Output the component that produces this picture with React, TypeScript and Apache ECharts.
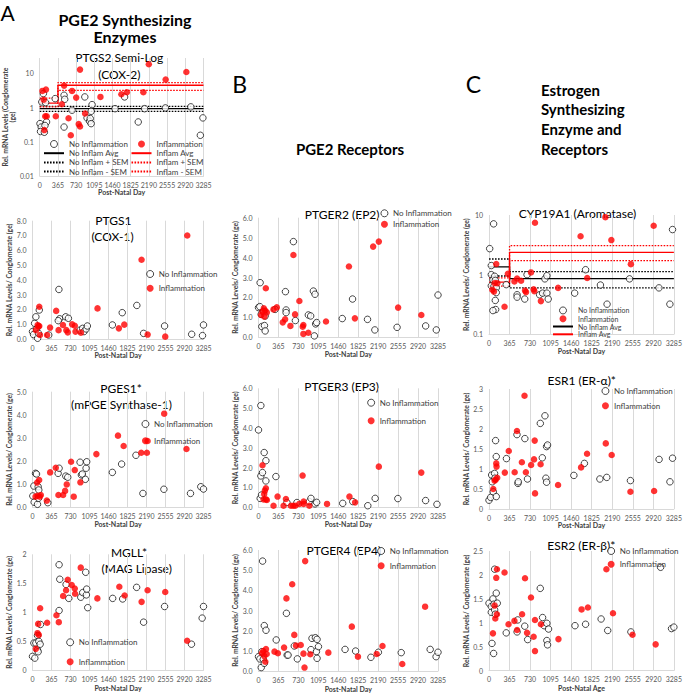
import React, { useEffect, useRef } from "react";
import * as echarts from "echarts";

const FONT = "Lato, 'Open Sans', sans-serif";
const X_MAX = 3285;
const X_STEP = 365;
const Y_NAME = "Rel. mRNA Levels/ Conglomerate (ge)";

// ---------- A: PGE2 synthesizing enzymes ----------
const ptgs2NoInfl = [[5,0.34],[29,0.27],[16,0.2],[73,2.56],[41,1.46],[118,1.4],[137,0.38],[105,0.3],[93,0.19],[310,1.83],[488,2.3],[501,1.75],[488,0.27],[648,0.84],[904,2.05],[949,0.5],[1000,0.4],[1013,0.48],[1031,0.78],[1050,1.22],[1031,0.34],[1511,0.93],[1702,2.05],[1976,0.38],[2104,0.93],[2520,0.98],[3031,1.05],[3273,0.5],[3222,0.155]];
const ptgs2Infl = [[54,3.07],[80,1.7],[125,3.36],[93,0.22],[110,0.56],[140,0.56],[322,0.56],[444,1.25],[489,4.4],[578,0.49],[648,3.07],[731,1.96],[808,12.9],[910,0.67],[782,0.33],[808,0.28],[623,0.155],[1218,2.05],[1638,2.45],[1747,2.8],[2079,2.8],[2188,18.5],[2526,6.6],[2941,11]];
const ptgs2NoInflAvg = [[0,0.93],[3285,0.93]];
const ptgs2NoInflPlus = [[0,1.09],[3285,1.09]];
const ptgs2NoInflMinus = [[0,0.78],[3285,0.78]];
const ptgs2InflAvg = [[0,1.36],[365,1.36],[365,4.5],[3285,4.5]];
const ptgs2InflPlus = [[0,1.9],[365,1.9],[365,5.4],[3285,5.4]];
const ptgs2InflMinus = [[0,1.05],[365,1.05],[365,3.2],[3285,3.2]];

const ptgs1NoInfl = [[0,0.5],[20,0.3],[40,1.06],[65,1.5],[78,0.68],[98,0.05],[117,0.38],[130,1.96],[312,0.27],[507,3.35],[520,1.37],[495,1.24],[637,1.5],[690,1.4],[911,0.6],[963,0.72],[989,0.5],[1030,0.68],[1054,0.88],[1535,0.95],[1724,1.78],[2004,2.27],[2134,0.38],[2537,0.88],[3058,0.32],[3266,0.23],[3285,0.95]];
const ptgs1Infl = [[65,0.6],[98,0.95],[130,0.88],[130,2.18],[115,0.85],[143,0.27],[280,0.27],[338,0.77],[455,1.9],[501,0.6],[585,0.95],[650,0.6],[677,0.45],[761,0.99],[813,0.9],[826,0.5],[930,0.43],[1249,2.07],[1659,0.72],[1763,0.97],[2095,5.36],[2212,0.3],[2550,0.16],[2973,7.0]];

const pges1NoInfl = [[6,0.49],[32,0.22],[26,0.92],[58,1.47],[77,1.44],[96,0.13],[109,0.89],[121,0.75],[115,0.39],[294,0.2],[492,1.47],[511,1.69],[639,1.35],[677,1.3],[914,1.95],[939,1.4],[958,1.44],[1016,1.21],[1029,1.69],[1041,1.97],[1534,1.51],[1712,1.87],[1987,2.25],[2121,0.6],[2524,0.78],[3035,0.6],[3233,0.89],[3285,0.79]];
const pges1Infl = [[58,0.46],[96,0.5],[89,1.07],[128,1.18],[140,0.46],[160,0.53],[275,0.29],[339,1.51],[447,1.71],[498,0.53],[588,0.53],[626,0.71],[658,0.99],[741,1.97],[792,0.46],[812,1.61],[920,1.08],[1227,2.3],[1642,3.1],[1751,2.65],[2089,2.36],[2198,2.36],[2211,2.87],[2530,4.05],[2958,2.52]];

const mgllNoInfl = [[0,0.24],[45,0.21],[26,0.47],[64,0.47],[96,0.35],[109,0.32],[96,0.6],[121,0.5],[147,0.45],[153,0.79],[511,1.03],[524,1.57],[511,1.82],[645,1.48],[697,1.24],[927,1.26],[965,1.34],[1035,1.3],[1041,1.4],[1022,1.69],[1061,1.08],[1540,1.24],[1732,1.23],[2000,1.43],[2134,0.83],[2537,1.1],[3054,0.45],[3259,0.9],[3285,1.1]];
const mgllInfl = [[64,0.37],[96,0.64],[109,0.8],[121,0.61],[147,1.07],[281,0.82],[460,0.95],[505,0.83],[588,1.28],[645,1.38],[677,1.56],[754,1.47],[812,1.41],[818,1.32],[927,1.77],[1246,1.24],[1668,1.44],[1770,1.29],[2096,1.18],[2211,1.38],[2550,1.35],[2971,0.51]];

// ---------- B: PGE2 receptors ----------
const ptger2NoInfl = [[0,1.49],[30,2.74],[24,1.54],[49,1.15],[61,0.54],[109,0.59],[122,0.32],[91,1.29],[122,1.07],[304,1.4],[493,2.29],[505,1.37],[505,1.24],[639,4.8],[675,0.84],[912,1.12],[955,1.07],[1004,2.32],[1034,2.16],[1022,0.07],[1046,0.67],[1064,0.74],[1533,0.94],[1721,1.92],[1995,0.9],[2129,0.37],[2536,0.5],[3059,0.57],[3254,0.37],[3285,2.12]];
const ptger2Infl = [[49,1.12],[73,1.29],[97,1.45],[109,1.04],[122,1.34],[134,2.46],[152,1.25],[274,1.4],[335,1.5],[444,0.75],[487,0.9],[584,0.57],[639,4.13],[669,1.15],[748,1.82],[809,0.53],[821,0.62],[821,0.17],[912,0.23],[1235,0.79],[1655,3.55],[1764,0.95],[2098,4.55],[2202,4.8],[2555,1.49],[2980,1.12]];

const ptger3NoInfl = [[0,3.9],[43,5.13],[31,0.45],[43,1.58],[73,1.75],[55,0.62],[104,2.76],[135,2.35],[135,1.33],[318,1.55],[520,0.24],[703,0.24],[930,0.29],[960,0.45],[1034,0.17],[1064,0.25],[1541,0.2],[1725,0.29],[2000,0.08],[2135,0.45],[2550,0.44],[3058,0.34],[3266,0.15]];
const ptger3Infl = [[73,2.12],[92,0.4],[104,0.67],[116,0.84],[135,0.96],[135,0.4],[153,0.37],[275,0.08],[349,0.54],[459,0.08],[502,0.42],[593,0.08],[636,0.08],[673,0.08],[746,0.17],[807,1.6],[826,0.29],[826,0.17],[930,0.08],[1254,0.17],[1664,0.54],[1768,0.25],[2202,2.05],[2979,1.75]];

const ptger4NoInfl = [[0,0.71],[25,0.6],[50,0.17],[75,5.45],[62,0.96],[87,0.58],[106,0.38],[106,2.25],[137,2.02],[324,1.54],[511,2.86],[524,0.79],[542,0.79],[655,1.24],[711,0.6],[960,1.06],[979,1.62],[1041,1.65],[1072,1.57],[1060,0.96],[1072,0.63],[1097,1.21],[1584,1.07],[1777,0.99],[2057,0.68],[2194,0.93],[2612,0.91],[3142,1.07],[3250,0.71],[3285,0.93]];
const ptger4Infl = [[62,0.88],[87,0.99],[106,0.74],[125,0.46],[137,1.09],[150,0.84],[293,0.96],[355,0.88],[468,1.16],[511,3.6],[617,4.3],[655,1.79],[686,1.26],[773,1.29],[823,0.86],[854,5.45],[842,0.17],[948,0.83],[1278,0.91],[1708,2.2],[1820,0.71],[2163,0.84],[2269,1.24],[2631,0.35],[3049,3.19]];

// ---------- C: estrogen synthesizing enzyme and receptors ----------
const cyp19NoInfl = [[12,2.73],[82,7.1],[41,1.42],[41,1.0],[41,0.65],[70,0.82],[88,0.64],[100,0.94],[112,0.8],[112,0.37],[118,0.26],[70,0.25],[129,0.6],[129,0.5],[306,0.68],[499,0.46],[499,0.42],[635,0.39],[676,1.0],[899,0.46],[952,0.49],[993,0.85],[1028,0.96],[1028,0.49],[1052,0.39],[1522,0.49],[1716,1.21],[1980,0.67],[2098,0.32],[2497,0.85],[3020,0.6],[3214,0.32],[3261,5.7]];
const cyp19Infl = [[59,0.56],[88,0.52],[100,0.72],[129,1.51],[147,0.72],[276,0.29],[335,1.03],[452,0.77],[499,0.86],[570,0.79],[640,0.54],[658,0.51],[746,1.09],[793,0.57],[805,0.53],[817,7.4],[922,0.36],[1228,0.6],[1627,4.4],[1745,0.88],[2068,9.2],[2174,3.8],[2521,1.5],[2926,6.6]];
const cyp19NoInflAvg = [[0,1.35],[365,1.35],[365,0.86],[3285,0.86]];
const cyp19NoInflPlus = [[0,1.83],[365,1.83],[365,1.12],[3285,1.12]];
const cyp19NoInflMinus = [[0,0.95],[365,0.95],[365,0.6],[3285,0.6]];
const cyp19InflAvg = [[0,0.75],[365,0.75],[365,2.37],[3285,2.37]];
const cyp19InflPlus = [[0,0.88],[365,0.88],[365,3.07],[3285,3.07]];
const cyp19InflMinus = [[0,0.64],[365,0.64],[365,1.72],[3285,1.72]];

const esr1NoInfl = [[0,0.22],[29,0.29],[47,0.85],[58,0.68],[76,0.43],[99,0.89],[117,1.71],[105,0.77],[129,0.31],[129,1.31],[310,1.26],[497,1.86],[514,0.64],[520,0.68],[637,1.76],[684,0.75],[912,2.14],[947,1.28],[994,2.33],[1011,0.77],[1023,1.56],[1040,1.6],[1023,0.67],[1508,0.84],[1695,1.14],[1970,0.75],[2092,0.79],[2513,0.71],[3022,1.24],[3215,0.68],[3261,1.27]];
const esr1Infl = [[76,0.5],[99,0.71],[117,0.73],[129,1.14],[134,1.06],[146,0.78],[281,0.91],[351,1.45],[456,0.92],[497,1.95],[584,1.17],[631,2.83],[655,0.92],[748,1.1],[800,1.24],[812,1.71],[818,0.39],[917,1.12],[1227,0.6],[1636,1.04],[1742,1.38],[2075,1.64],[2180,1.35],[2513,0.43],[2934,0.45]];

const esr2NoInfl = [[0,1.41],[41,1.34],[41,1.22],[53,0.57],[70,1.5],[82,0.36],[88,1.39],[100,2.12],[100,1.27],[112,1.18],[129,1.62],[147,1.41],[306,0.79],[499,0.81],[511,1.06],[635,0.93],[687,0.65],[911,1.72],[952,1.11],[981,0.94],[1028,0.99],[1028,0.63],[1040,0.54],[1058,0.87],[1528,0.94],[1716,0.97],[1992,1.08],[2109,0.84],[2521,0.81],[3049,2.16],[3243,0.88],[3285,0.91]];
const esr2Infl = [[70,0.78],[100,1.36],[112,1.09],[129,1.94],[141,2.12],[141,1.18],[276,2.05],[347,0.97],[452,1.04],[499,0.85],[588,1.18],[640,1.93],[676,0.79],[746,1.53],[793,0.71],[817,1.06],[817,0.41],[922,0.97],[1234,0.66],[1645,1.28],[1757,1.32],[2086,2.12],[2203,1.2],[2550,0.75],[2961,0.55]];

// ---------- layout of the ten panels ----------
type Panel = {
  left: number; top: number; width: number; height: number;
  log?: boolean; yMin: number; yMax: number; yInterval?: number; yDecimals?: number;
  noInfl: number[][]; infl: number[][];
  yName: string; yNameGap: number; xName: string; xNameGap: number;
  legend?: { cx: number; cy: number; step: number };
};

const colA = { left: 32.5, width: 171 };
const colB = { left: 258.5, width: 179.5 };
const colC = { left: 489, width: 186.5 };

const panels: Panel[] = [
  { ...colA, top: 58, height: 118, log: true, yMin: 0.01, yMax: 28.2, noInfl: ptgs2NoInfl, infl: ptgs2Infl, yName: "Rel. mRNA Levels (Conglomerate\n(ge)", yNameGap: 12, xName: "Post-Natal Day", xNameGap: 11 },
  { ...colA, top: 220.7, height: 118.3, yMin: 0, yMax: 8, yInterval: 1, yDecimals: 1, noInfl: ptgs1NoInfl, infl: ptgs1Infl, yName: Y_NAME, yNameGap: 20, xName: "Post-Natal Day", xNameGap: 11, legend: { cx: 150.7, cy: 274, step: 14.3 } },
  { ...colA, top: 391.7, height: 115.6, yMin: 0, yMax: 5, yInterval: 1, yDecimals: 1, noInfl: pges1NoInfl, infl: pges1Infl, yName: Y_NAME, yNameGap: 20, xName: "Post-Natal Day", xNameGap: 11, legend: { cx: 146, cy: 424, step: 16.7 } },
  { ...colA, top: 554.3, height: 116, yMin: 0, yMax: 2, yInterval: 0.5, noInfl: mgllNoInfl, infl: mgllInfl, yName: Y_NAME, yNameGap: 20, xName: "Post-Natal Day", xNameGap: 14, legend: { cx: 70.7, cy: 642.3, step: 19.4 } },
  { ...colB, top: 217.7, height: 119.6, yMin: 0, yMax: 6, yInterval: 1, yDecimals: 1, noInfl: ptger2NoInfl, infl: ptger2Infl, yName: Y_NAME, yNameGap: 18, xName: "Post-Natal Day", xNameGap: 12, legend: { cx: 385, cy: 213.3, step: 11 } },
  { ...colB, top: 388.3, height: 119, yMin: 0, yMax: 6, yInterval: 1, yDecimals: 1, noInfl: ptger3NoInfl, infl: ptger3Infl, yName: Y_NAME, yNameGap: 18, xName: "Post-Natal Day", xNameGap: 11, legend: { cx: 371.7, cy: 402.7, step: 18 } },
  { ...colB, top: 550, height: 121, yMin: 0, yMax: 6, yInterval: 1, yDecimals: 1, noInfl: ptger4NoInfl, infl: ptger4Infl, yName: Y_NAME, yNameGap: 18, xName: "Post-Natal Day", xNameGap: 14, legend: { cx: 381.7, cy: 551, step: 14.7 } },
  { ...colC, top: 215, height: 119.3, log: true, yMin: 0.1, yMax: 10, noInfl: cyp19NoInfl, infl: cyp19Infl, yName: Y_NAME, yNameGap: 15, xName: "Post-Natal Day", xNameGap: 11 },
  { ...colC, top: 389, height: 120, yMin: 0, yMax: 3, yInterval: 0.5, noInfl: esr1NoInfl, infl: esr1Infl, yName: Y_NAME, yNameGap: 15, xName: "Post-Natal Day", xNameGap: 11, legend: { cx: 606, cy: 391, step: 14.7 } },
  { ...colC, top: 551, height: 119.7, yMin: 0, yMax: 2.5, yInterval: 0.5, noInfl: esr2NoInfl, infl: esr2Infl, yName: Y_NAME, yNameGap: 15, xName: "Post-Natal Age", xNameGap: 14, legend: { cx: 611.7, cy: 551, step: 13.3 } },
];

// panel titles: [text, centre x, centre y]
const panelTitles: [string, number, number][] = [
  ["PTGS2 Semi-Log", 119.3, 57], ["(COX-2)", 119.3, 74],
  ["PTGS1", 113.3, 220.5], ["(COX-1)", 112.5, 236.5],
  ["PGES1*", 121, 388], ["(mPGE Synthase-1)", 121.5, 404],
  ["MGLL*", 129, 552], ["(MAG Lipase)", 136.7, 568],
  ["PTGER2 (EP2)", 342.2, 214], ["PTGER3 (EP3)", 341.7, 386], ["PTGER4 (EP4)", 343.8, 550.5],
  ["CYP19A1 (Aromatase)", 577.5, 213], ["ESR1 (ER-α)*", 581.7, 380], ["ESR2 (ER-β)*", 581.3, 545.5],
];

const BLACK = "#000000";
const RED = "#ff0000";
const GRID = "#d9d9d9";

function logLabel(v: number) {
  const e = Math.log10(v);
  if (Math.abs(e - Math.round(e)) > 1e-6) return "";
  return String(parseFloat(v.toPrecision(6)));
}

function buildOption() {
  const grid: any[] = [];
  const xAxis: any[] = [];
  const yAxis: any[] = [];
  const series: any[] = [];
  const legend: any[] = [];

  panels.forEach((p, i) => {
    grid.push({ left: p.left, top: p.top, width: p.width, height: p.height, containLabel: false });
    xAxis.push({
      gridIndex: i, type: "value", min: 0, max: X_MAX, interval: X_STEP,
      axisLine: { show: true, lineStyle: { color: GRID, width: 1 } },
      axisTick: { show: false },
      splitLine: { show: true, lineStyle: { color: GRID, width: 1 } },
      axisLabel: { fontSize: 7, color: "#595959", margin: 5, fontFamily: FONT, showMinLabel: true, showMaxLabel: true, formatter: (v: number) => String(v) },
      name: p.xName, nameLocation: "middle", nameGap: p.xNameGap,
      nameTextStyle: { fontSize: 7, fontWeight: "bold", color: "#404040", fontFamily: FONT },
    });
    yAxis.push({
      gridIndex: i, type: p.log ? "log" : "value", logBase: 10, min: p.yMin, max: p.yMax,
      ...(p.log ? {} : { interval: p.yInterval }),
      axisLine: { show: false }, axisTick: { show: false }, splitLine: { show: false },
      axisLabel: {
        fontSize: 7, color: "#595959", margin: 6, fontFamily: FONT,
        formatter: p.log ? logLabel : (v: number) => (p.yDecimals ? v.toFixed(p.yDecimals) : String(v)),
      },
      name: p.yName, nameLocation: "middle", nameGap: p.yNameGap, nameRotate: 90,
      nameTextStyle: { fontSize: 6.8, fontWeight: "bold", color: "#404040", fontFamily: FONT, lineHeight: 7.5 },
    });
    series.push({
      type: "scatter", name: "No Inflammation", xAxisIndex: i, yAxisIndex: i, data: p.noInfl,
      symbol: "circle", symbolSize: 6.5, silent: true, z: 3,
      itemStyle: { color: "#ffffff", borderColor: BLACK, borderWidth: 0.9 },
    });
    series.push({
      type: "scatter", name: "Inflammation", xAxisIndex: i, yAxisIndex: i, data: p.infl,
      symbol: "circle", symbolSize: 6.5, silent: true, z: 4,
      itemStyle: { color: RED },
    });
    if (p.legend) {
      legend.push({
        orient: "vertical", left: p.legend.cx - 4.5, top: p.legend.cy - 4,
        itemWidth: 7, itemHeight: 7, itemGap: p.legend.step - 8, padding: 0,
        selectedMode: false, data: ["No Inflammation", "Inflammation"],
        itemStyle: { borderWidth: 0.9 },
        textStyle: { fontSize: 8, color: "#404040", fontFamily: FONT },
      });
    }
  });

  const line = (name: string, gi: number, data: number[][], color: string, dotted: boolean) => ({
    type: "line", name, xAxisIndex: gi, yAxisIndex: gi, data, symbol: "none", showSymbol: false,
    silent: true, z: 2, animation: false,
    lineStyle: { color, width: 1.3, type: dotted ? [1.6, 1.4] : "solid" },
    itemStyle: { color },
  });

  series.push(line("No Inflam Avg", 0, ptgs2NoInflAvg, BLACK, false));
  series.push(line("No Inflam + SEM", 0, ptgs2NoInflPlus, BLACK, true));
  series.push(line("No Inflam - SEM", 0, ptgs2NoInflMinus, BLACK, true));
  series.push(line("Inflam Avg", 0, ptgs2InflAvg, RED, false));
  series.push(line("Inflam + SEM", 0, ptgs2InflPlus, RED, true));
  series.push(line("Inflam - SEM", 0, ptgs2InflMinus, RED, true));

  series.push(line("No Inflam Avg", 7, cyp19NoInflAvg, BLACK, false));
  series.push(line("CYP19A1 No Inflam + SEM", 7, cyp19NoInflPlus, BLACK, true));
  series.push(line("CYP19A1 No Inflam - SEM", 7, cyp19NoInflMinus, BLACK, true));
  series.push(line("Inflam Avg", 7, cyp19InflAvg, RED, false));
  series.push(line("CYP19A1 Inflam + SEM", 7, cyp19InflPlus, RED, true));
  series.push(line("CYP19A1 Inflam - SEM", 7, cyp19InflMinus, RED, true));

  const item = (name: string) =>
    name.indexOf("Inflam ") === 0 || name.indexOf("No Inflam ") === 0
      ? { name, itemStyle: { opacity: 0, borderWidth: 0 } }
      : { name };
  const smallLegend = (left: number, top: number, gap: number, size: number, data: string[]) => ({
    orient: "vertical", left, top, itemWidth: 20, itemHeight: 7, itemGap: gap, padding: 0,
    selectedMode: false, data: data.map(item), itemStyle: { borderWidth: 0.9 },
    textStyle: { fontSize: size, color: "#404040", fontFamily: FONT, lineHeight: size },
  });
  legend.push(smallLegend(43, 140, 1.2, 8, ["No Inflammation", "No Inflam Avg", "No Inflam + SEM", "No Inflam - SEM"]));
  legend.push(smallLegend(130.5, 140, 1.2, 8, ["Inflammation", "Inflam Avg", "Inflam + SEM", "Inflam - SEM"]));
  legend.push(smallLegend(552, 306.5, 0.8, 7, ["No Inflammation", "Inflammation", "No Inflam Avg", "Inflam Avg"]));

  const txt = (text: string, x: number, y: number, size: number, weight: string, align: string) => ({
    type: "text", x, y, silent: true,
    style: { text, fontSize: size, fontWeight: weight, fontFamily: FONT, fill: "#000", textAlign: align, textVerticalAlign: "middle" },
  });
  const graphic: any[] = [
    txt("A", 0.5, 12.5, 21, "normal", "left"),
    txt("B", 232.3, 84, 23, "normal", "left"),
    txt("C", 465.7, 84, 23, "normal", "left"),
    txt("PGE2 Synthesizing", 125, 19, 16, "bold", "center"),
    txt("Enzymes", 125, 36.5, 16, "bold", "center"),
    txt("PGE2 Receptors", 350, 148.7, 15, "bold", "center"),
    txt("Estrogen", 541, 89.7, 15, "bold", "left"),
    txt("Synthesizing", 541, 109.3, 15, "bold", "left"),
    txt("Enzyme and", 541, 129, 15, "bold", "left"),
    txt("Receptors", 541, 148.7, 15, "bold", "left"),
    ...panelTitles.map(([t, x, y]) => txt(t, x, y, 12, "normal", "center")),
  ];

  return { animation: false, backgroundColor: "#ffffff", grid, xAxis, yAxis, series, legend, graphic };
}

export default function App() {
  const ref = useRef<HTMLDivElement | null>(null);
  useEffect(() => {
    if (!ref.current) return;
    const chart = echarts.init(ref.current, undefined, { renderer: "svg" });
    chart.setOption(buildOption() as any);
    return () => chart.dispose();
  }, []);
  return <div ref={ref} style={{ position: "absolute", left: 0, top: 0, width: 685, height: 693 }} />;
}
